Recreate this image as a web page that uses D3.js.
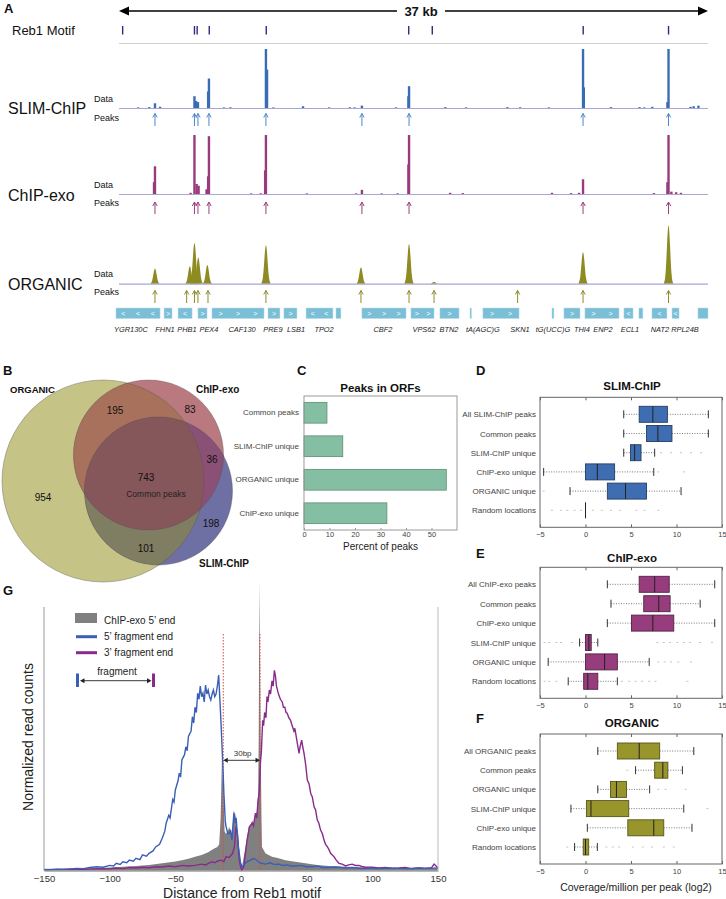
<!DOCTYPE html>
<html><head><meta charset="utf-8">
<script src="https://cdn.jsdelivr.net/npm/d3@7"></script>
<style>body{margin:0;background:#fff}svg{display:block}</style>
</head><body>
<script>
// ---------------- DATA ----------------
// Panel A (positions in kb along a 37 kb window; heights as fraction of track max)
const motifKb = [0.23, 4.74, 4.91, 5.67, 9.25, 18.2, 19.68, 29.16, 34.52];
const slimPeaks = [[2.26,0.08],[2.58,0.02],[4.74,0.2],[4.84,0.12],[4.96,0.1],[5.6,0.28],[5.65,0.5],[9.23,1.0],[9.3,0.65],[11.56,0.03],[15.26,0.04],[18.18,0.2],[18.22,0.37],[29.15,1.0],[29.2,0.35],[34.45,0.1],[34.52,1.0],
  [1.2,0.01],[1.9,0.015],[6.6,0.01],[7.0,0.012],[9.7,0.01],[13.2,0.01],[14.5,0.012],[14.8,0.01],[17.4,0.01],[20.5,0.015],[21.8,0.01],[24.4,0.015],[25.2,0.012],[27.0,0.01],[30.9,0.015],[32.7,0.015],[33.0,0.01],[33.5,0.02],[35.9,0.02],[36.1,0.03],[36.4,0.04]];
const exoPeaks = [[2.2,0.2],[2.26,0.47],[4.74,1.0],[4.88,0.17],[5.0,0.14],[5.5,0.08],[5.6,0.3],[5.65,0.98],[9.18,0.4],[9.23,1.0],[15.26,0.07],[18.18,0.5],[18.22,1.0],[29.15,0.25],[34.45,0.2],[34.52,1.0],[34.7,0.04],
  [4.5,0.02],[8.3,0.01],[8.9,0.012],[11.8,0.01],[14.9,0.01],[16.5,0.01],[17.5,0.012],[20.8,0.02],[21.6,0.015],[27.2,0.02],[28.4,0.015],[28.9,0.02],[33.6,0.015],[35.0,0.03],[35.3,0.02]];
const orgPeaks = [[2.26,0.26],[4.45,0.3],[4.74,0.7],[4.98,0.45],[5.55,0.32],[9.23,0.66],[15.2,0.28],[18.22,0.68],[19.79,0.03],[29.15,0.54],[34.52,1.0]];
const slimCalls = [2.26,4.74,4.96,5.65,9.23,15.26,18.22,29.15,34.52];
const exoCalls  = [2.26,4.74,4.96,5.65,9.23,15.26,18.22,29.15,34.52];
const orgCalls  = [2.26,4.25,4.74,4.96,5.59,9.23,15.2,18.22,19.79,25.04,29.15,34.52];
// genes: name, start kb, end kb, strand glyph, glyph count, label kb
const genes = [
 ["YGR130C",-0.19,2.58,"<",3,0.75],["FHN1",2.83,3.33,">",1,2.89],["PHB1",3.71,4.59,"<",1,4.27],
 ["PEX4",4.96,5.53,">",1,5.65],["CAF130",5.84,9.11,">",3,7.73],["PRE9",9.36,10.11,">",1,9.67],
 ["LSB1",10.36,11.18,">",1,11.12],["TPO2",11.75,13.44,"<",2,12.88],["",13.63,13.94,"",0,0],
 ["CBF2",15.26,18.03,">",3,16.58],["VPS62",18.34,19.79,">",2,19.16],["BTN2",20.16,21.36,">",1,20.73],
 ["tA(AGC)G",22.05,22.14,"",0,22.86],["SKN1",22.86,25.13,">",2,25.19],["tG(UCC)G",27.2,27.32,"",0,27.26],
 ["THI4",27.95,28.96,">",1,29.08],["ENP2",29.27,31.41,">",2,30.4],["ECL1",31.72,32.29,"<",1,32.1],
 ["",32.66,32.91,"",0,0],["NAT2",33.48,34.42,"<",1,33.98],["RPL24B",34.74,35.18,"<",1,35.55],["",36.37,37.0,"",0,0]];

// Panel B
const vennSets = ["ORGANIC","ChIP-exo","SLIM-ChIP"];
const vennCounts = [954,195,83,743,36,198,101];

// Panel C
const orfCats = ["Common peaks","SLIM-ChIP unique","ORGANIC unique","ChIP-exo unique"];
const orfPct = [9.0,15.2,55.8,32.5];
const orfTicks = [0,10,20,30,40,50];

// Panels D/E/F: name, whisker low, q1, median, q3, whisker high, outliers
const slimBox = [
 ["All SLIM-ChIP peaks",4.2,5.9,7.4,9.0,13.5,[]],
 ["Common peaks",4.2,6.7,7.95,9.5,13.5,[]],
 ["SLIM-ChIP unique",4.2,4.95,5.4,6.1,7.6,[8.3,9.4,10.5,11.6,12.7]],
 ["ChIP-exo unique",-4.6,0,1.3,3.2,7.5,[8.0,10.8]],
 ["ORGANIC unique",-1.7,2.4,4.4,6.7,10.5,[-4.6]],
 ["Random locations",0,0,0,0,0,[-3.7,-2.7,-2.0,-1.2,-0.5,0.8,1.8,2.8,3.8,5.6,6.5,8.0]]];
const exoBox = [
 ["All ChIP-exo peaks",2.4,5.9,7.6,9.2,14.2,[]],
 ["Common peaks",2.8,6.4,8.05,9.3,12.6,[]],
 ["ChIP-exo unique",2.4,5.05,7.4,9.7,14.2,[]],
 ["SLIM-ChIP unique",-0.65,0,0.37,0.63,1.35,[-4.5,-4.0,-3.2,-2.7,-1.5,7.9,8.6,9.3,10.1,10.8,11.5,12.6,13.9]],
 ["ORGANIC unique",-4.1,0,2.1,3.5,7.0,[8.0,8.7,9.4,10.2,11.6]],
 ["Random locations",-1.9,-0.2,0.25,1.35,3.5,[-4.5,-4.0,-3.2,4.0,4.8,5.5,6.2,7.0,7.7,11.2]]];
const orgBox = [
 ["All ORGANIC peaks",1.35,3.5,5.9,8.15,11.9,[]],
 ["Common peaks",5.5,7.6,8.5,9.05,10.65,[4.6]],
 ["ORGANIC unique",1.35,2.75,3.4,4.5,7.05,[8.0,8.8,11.0]],
 ["SLIM-ChIP unique",-1.6,0.1,0.6,4.75,10.8,[13.4]],
 ["ChIP-exo unique",0.2,4.65,7.5,8.6,11.7,[]],
 ["Random locations",-1.2,-0.25,0,0.35,1.3,[-2.0,2.3,3.0,3.7,5.2,6.3,7.3,8.6,9.7]]];
const boxTicks = [-5,0,5,10,15];

// Panel G: [distance bp, normalized count]
const gBlue = [[-150,0.005],[-145,0.004],[-140,0.006],[-135,0.005],[-130,0.007],[-125,0.009],[-120,0.008],[-115,0.012],[-110,0.015],[-105,0.013],[-100,0.02],[-97,0.018],[-95,0.028],[-92,0.024],[-90,0.034],[-87,0.03],[-85,0.04],[-82,0.036],[-80,0.047],[-77,0.042],[-75,0.06],[-72,0.055],[-70,0.066],[-67,0.075],[-65,0.09],[-62,0.1],[-60,0.123],[-58,0.15],[-57,0.18],[-55,0.21],[-54,0.2],[-52,0.27],[-51,0.26],[-50,0.306],[-48,0.34],[-47,0.37],[-46,0.355],[-45,0.42],[-43,0.44],[-42,0.47],[-41,0.455],[-40,0.51],[-38,0.53],[-37,0.584],[-36,0.56],[-35,0.62],[-34,0.6],[-33,0.673],[-32,0.65],[-31,0.70],[-30,0.66],[-29,0.673],[-28,0.64],[-27,0.704],[-26,0.67],[-25,0.685],[-24,0.66],[-23,0.647],[-22,0.67],[-21,0.685],[-20,0.66],[-19,0.67],[-18,0.7],[-17,0.742],[-16,0.64],[-15.3,0.57],[-14,0.42],[-13,0.29],[-12,0.19],[-11.5,0.17],[-10,0.14],[-9,0.14],[-8,0.155],[-6.9,0.116],[-5.4,0.22],[-4.5,0.18],[-3.7,0.2],[-2.2,0.1],[-0.4,0.03],[0.8,0.015],[2,0.02],[3.4,0.03],[5,0.035],[7.2,0.04],[9,0.045],[11,0.044],[13,0.035],[14.8,0.029],[18.6,0.025],[22,0.03],[25,0.024],[28.8,0.025],[32,0.02],[35,0.022],[38,0.018],[41.5,0.018],[45,0.02],[50,0.015],[54,0.015],[58,0.018],[62,0.012],[67,0.012],[72,0.014],[79.5,0.01],[85,0.012],[92,0.008],[98,0.01],[105,0.008],[112,0.01],[120,0.009],[128,0.008],[135,0.01],[142,0.009],[150,0.01]];
const gPurple = [[-150,0.004],[-140,0.005],[-130,0.006],[-120,0.005],[-110,0.008],[-100,0.007],[-95,0.01],[-90,0.008],[-85,0.012],[-80,0.01],[-75,0.013],[-70,0.011],[-65,0.015],[-60,0.014],[-55,0.018],[-50,0.015],[-45,0.02],[-40,0.018],[-35,0.02],[-30,0.025],[-27,0.022],[-24,0.03],[-22,0.034],[-20,0.03],[-18,0.036],[-15.3,0.04],[-13,0.035],[-11.5,0.053],[-9,0.05],[-6.4,0.066],[-5,0.09],[-3.9,0.167],[-2.7,0.14],[-1.4,0.04],[0,0.01],[0.6,0.003],[2.1,0.015],[3.5,0.07],[4.6,0.116],[6.5,0.167],[8.5,0.18],[9.5,0.17],[11,0.218],[12,0.2],[13,0.268],[14,0.3],[14.8,0.41],[15.5,0.45],[16.5,0.57],[17.2,0.55],[18,0.6],[19,0.58],[19.8,0.66],[20.5,0.64],[21.6,0.685],[22.5,0.67],[23.6,0.72],[24.5,0.7],[25.4,0.76],[26.2,0.74],[27,0.70],[28,0.68],[28.8,0.666],[30,0.65],[31.4,0.64],[32.3,0.62],[33.4,0.62],[34.3,0.6],[35.2,0.597],[36.4,0.58],[37.7,0.57],[39,0.55],[40.3,0.53],[41,0.54],[42,0.51],[43,0.48],[44.2,0.445],[45,0.47],[46.2,0.495],[47,0.47],[48,0.445],[49.3,0.4],[50.5,0.344],[51.8,0.33],[53.1,0.293],[54.3,0.28],[55.6,0.243],[56.8,0.23],[58.1,0.192],[59.3,0.18],[60.6,0.154],[62,0.14],[63.2,0.116],[64.4,0.1],[65.7,0.091],[67,0.08],[68.2,0.066],[69.5,0.06],[70.8,0.053],[72.5,0.04],[74.6,0.028],[77,0.025],[79.7,0.018],[82,0.022],[84.7,0.025],[87,0.02],[89.8,0.02],[92,0.016],[94.9,0.013],[100,0.013],[105,0.01],[110,0.012],[115,0.009],[120,0.01],[125,0.012],[130,0.008],[135,0.01],[140,0.009],[145,0.011],[147,0.025],[150,0.01]];
const gGray = [[-150,0.004],[-140,0.005],[-130,0.006],[-120,0.008],[-110,0.01],[-100,0.012],[-90,0.015],[-80,0.018],[-70,0.022],[-60,0.028],[-50,0.035],[-45,0.04],[-40,0.045],[-35,0.053],[-30,0.06],[-25,0.07],[-22,0.079],[-20,0.085],[-18,0.09],[-16.6,0.1],[-15.5,0.2],[-14.5,0.43],[-13.5,0.3],[-12.5,0.15],[-11.5,0.14],[-10,0.15],[-9,0.167],[-8,0.15],[-6.9,0.14],[-5.4,0.23],[-4.5,0.2],[-3.9,0.218],[-2.2,0.116],[-1,0.06],[-0.4,0.04],[0.8,0.015],[2,0.05],[3.4,0.09],[4.5,0.12],[5.9,0.167],[7,0.17],[8.5,0.19],[9.5,0.18],[11,0.218],[12,0.22],[13,0.28],[13.5,0.5],[14,1.10],[14.5,0.8],[15,0.47],[15.6,0.2],[16,0.09],[18.6,0.066],[21,0.06],[23.6,0.053],[28,0.048],[33.8,0.04],[40,0.035],[49,0.028],[58,0.022],[67,0.018],[80,0.015],[92,0.013],[105,0.011],[120,0.01],[135,0.009],[150,0.008]];
const gTicks = [-150,-100,-50,0,50,100,150];
const gLegend = ["ChIP-exo 5\u2019 end","5\u2019 fragment end","3\u2019 fragment end"];
const gGuides = [-13.5,14.5];

// ---------------- DRAW ----------------
const FONT = "'Liberation Sans', Arial, Helvetica, sans-serif";
const svg = d3.select("body").append("svg").attr("width",726).attr("height",899).style("font-family",FONT);
svg.append("rect").attr("width",726).attr("height",899).attr("fill","#fff");
const defs = svg.append("defs");

function txt(x,y,s,o={}){
  const t = svg.append("text").attr("x",x).attr("y",y).text(s)
    .attr("font-size",o.size||10).style("fill",o.fill||"#111");
  if(o.bold) t.attr("font-weight","bold");
  if(o.anchor) t.attr("text-anchor",o.anchor);
  if(o.italic) t.attr("font-style","italic");
  if(o.rotate) t.attr("transform",`rotate(${o.rotate},${x},${y})`);
  return t;
}

// panel letters
[["A",4,13],["B",3,375],["C",297,375],["D",476,375],["E",476,558],["F",476,723],["G",3,595]]
  .forEach(d=>txt(d[1],d[2],d[0],{size:13,bold:true}));

// ===== Panel A =====
const xA = d3.scaleLinear().domain([0,37]).range([119,708]);
const sbY = 11;
svg.append("line").attr("x1",xA(0)+4).attr("x2",xA(37)-4).attr("y1",sbY).attr("y2",sbY).attr("stroke","#000").attr("stroke-width",1.6);
svg.append("path").attr("d",`M${xA(0)},${sbY}L${xA(0)+10},${sbY-4.5}L${xA(0)+10},${sbY+4.5}Z`).attr("fill","#000");
svg.append("path").attr("d",`M${xA(37)},${sbY}L${xA(37)-10},${sbY-4.5}L${xA(37)-10},${sbY+4.5}Z`).attr("fill","#000");
svg.append("rect").attr("x",397).attr("y",3).attr("width",48).attr("height",16).attr("fill","#fff");
txt(421,15.5,"37 kb",{size:13,bold:true,anchor:"middle"});

txt(12,34.5,"Reb1 Motif",{size:13});
svg.append("g").selectAll("line").data(motifKb).join("line")
  .attr("x1",d=>xA(d)).attr("x2",d=>xA(d)).attr("y1",26).attr("y2",34.5)
  .attr("stroke","#2e2a7e").attr("stroke-width",1.4);
svg.append("line").attr("x1",xA(0)).attr("x2",xA(37)).attr("y1",43.5).attr("y2",43.5).attr("stroke","#cfcfcf").attr("stroke-width",1);

const tracks = [
  {name:"SLIM-ChIP",peaks:slimPeaks,calls:slimCalls,base:108,color:"#3a6cb3",acol:"#4f86cc",shape:"spike",lab:113.5,dat:101.7,pk:120.5,a0:126,a1:113.5},
  {name:"ChIP-exo",peaks:exoPeaks,calls:exoCalls,base:194,color:"#993a7d",acol:"#9c3f80",shape:"spike",lab:200.5,dat:187.7,pk:206,a0:214,a1:202},
  {name:"ORGANIC",peaks:orgPeaks,calls:orgCalls,base:283.7,color:"#8e8b22",acol:"#8e8b2a",shape:"bell",lab:290,dat:276.7,pk:295,a0:303,a1:290.5}
];
tracks.forEach(t=>{
  const y = d3.scaleLinear().domain([0,1]).range([t.base,t.base-59]);
  const area = d3.area().x(d=>xA(d[0])).y0(t.base).y1(d=>y(d[1]));
  const g = svg.append("g");
  g.selectAll("path").data(t.peaks).join("path")
    .attr("d",p=>{
      const k=p[0],h=p[1];
      if(t.shape==="spike"){ const w=0.075; return area([[k-w,h],[k+w,h]]); }
      const w=0.3;
      return area.curve(d3.curveBasis)([[k-w,0],[k-0.6*w,0.1*h],[k-0.3*w,0.7*h],[k-0.1*w,h],[k+0.1*w,h],[k+0.3*w,0.7*h],[k+0.6*w,0.1*h],[k+w,0]]);
    })
    .attr("fill",t.color);
  svg.append("line").attr("x1",xA(0)).attr("x2",xA(37)).attr("y1",t.base+0.5).attr("y2",t.base+0.5).attr("stroke","#a9a5d5").attr("stroke-width",1.2);
  svg.append("g").selectAll("path").data(t.calls).join("path")
    .attr("d",k=>{const x=xA(k); return `M${x},${t.a0}L${x},${t.a1}M${x-2.2},${t.a1+4}L${x},${t.a1}L${x+2.2},${t.a1+4}`;})
    .attr("stroke",t.acol).attr("stroke-width",1).attr("fill","none");
  txt(8,t.lab,t.name,{size:16});
  txt(94,t.dat,"Data",{size:9});
  txt(94,t.pk,"Peaks",{size:9});
});

// genes
const gGenes = svg.append("g");
genes.forEach(gn=>{
  const x0=xA(gn[1]), x1=xA(gn[2]), w=Math.max(1.4,x1-x0);
  gGenes.append("rect").attr("x",x0).attr("y",308).attr("width",w).attr("height",10.5)
    .attr("fill","#7bbfd6").attr("stroke","#b5dcea").attr("stroke-width",0.5);
  for(let i=0;i<gn[4];i++){
    const cx = x0 + (i+0.5)*w/gn[4];
    gGenes.append("text").attr("x",cx).attr("y",315.8).attr("text-anchor","middle")
      .attr("font-size",7).style("fill","#fff").text(gn[3]);
  }
  if(gn[0]) gGenes.append("text").attr("x",xA(gn[5])).attr("y",332).attr("text-anchor","middle")
     .attr("font-size",7.4).attr("font-style","italic").style("fill","#222").text(gn[0]);
});

// ===== Panel B: Venn =====
const circO={cx:103,cy:481,r:101}, circC={cx:148.5,cy:455,r:75}, circS={cx:158.5,cy:491,r:74};
defs.append("clipPath").attr("id","clipO").append("circle").attr("cx",circO.cx).attr("cy",circO.cy).attr("r",circO.r);
defs.append("clipPath").attr("id","clipC").append("circle").attr("cx",circC.cx).attr("cy",circC.cy).attr("r",circC.r);
const gB = svg.append("g");
const circ=(g,c,fill)=>g.append("circle").attr("cx",c.cx).attr("cy",c.cy).attr("r",c.r).attr("fill",fill);
circ(gB,circO,"#c5c386");
circ(gB,circC,"#b9797f");
circ(gB,circS,"#6e6fa3");
circ(gB.append("g").attr("clip-path","url(#clipO)"),circC,"#a7715c");
circ(gB.append("g").attr("clip-path","url(#clipO)"),circS,"#7f7d62");
circ(gB.append("g").attr("clip-path","url(#clipC)"),circS,"#8b5075");
circ(gB.append("g").attr("clip-path","url(#clipO)").append("g").attr("clip-path","url(#clipC)"),circS,"#86575a");
[circO,circC,circS].forEach(c=>gB.append("circle").attr("cx",c.cx).attr("cy",c.cy).attr("r",c.r).attr("fill","none").attr("stroke","#555").attr("stroke-opacity",0.55).attr("stroke-width",0.7));
const vennPos = [[43,501],[115,414],[190,413],[146,481],[212,463],[211,527],[146,552]];
vennCounts.forEach((v,i)=>txt(vennPos[i][0],vennPos[i][1],v,{size:10,anchor:"middle",fill:"#111"}));
txt(156,496.5,"Common peaks",{size:8.5,anchor:"middle",fill:"#222"});
txt(10,393,vennSets[0],{size:9.5,bold:true});
txt(196,393,vennSets[1],{size:10,bold:true});
txt(199,567,vennSets[2],{size:10,bold:true});

// ===== Panel C =====
const xC = d3.scaleLinear().domain([0,60]).range([304,457]);
const yC = d3.scaleBand().domain(orfCats).range([396,530]).paddingInner(0.38).paddingOuter(0.19);
txt(380.5,392,"Peaks in ORFs",{size:11.5,bold:true,anchor:"middle"});
svg.append("g").selectAll("rect").data(orfCats).join("rect")
  .attr("x",xC(0)).attr("y",d=>yC(d)).attr("height",yC.bandwidth())
  .attr("width",(d,i)=>xC(orfPct[i])-xC(0))
  .attr("fill","#84bfa3").attr("stroke","#5e8c76").attr("stroke-width",0.8);
svg.append("rect").attr("x",304).attr("y",396).attr("width",153).attr("height",134).attr("fill","none").attr("stroke","#9a9a9a").attr("stroke-width",1);
const axC = svg.append("g").attr("transform","translate(0,530)")
  .call(d3.axisBottom(xC).tickValues(orfTicks).tickSizeInner(-2).tickSizeOuter(0).tickPadding(2));
axC.select(".domain").remove();
axC.selectAll("line").attr("stroke","#999");
axC.selectAll("text").attr("font-size",7.5).style("fill","#444").attr("font-family",FONT);
const ayC = svg.append("g").attr("transform","translate(304,0)").call(d3.axisLeft(yC).tickSize(0).tickPadding(5));
ayC.select(".domain").remove();
ayC.selectAll("text").attr("font-size",8).style("fill","#444").attr("font-family",FONT);
txt(380.5,550,"Percent of peaks",{size:10,anchor:"middle",fill:"#222"});

// ===== Panels D/E/F =====
function boxPanel(rows,top,bottom,title,titleY,fill){
  const x = d3.scaleLinear().domain([-5,15]).range([540,722]);
  const y = d3.scalePoint().domain(rows.map(r=>r[0])).range([top+17,bottom-17]);
  const g = svg.append("g");
  const stroke = d3.color(fill).darker(1.6);
  rows.forEach(r=>{
    const cy=y(r[0]);
    r[6].forEach(o=>g.append("line").attr("x1",x(o)-1).attr("x2",x(o)+1).attr("y1",cy).attr("y2",cy).attr("stroke","#b5b5b5").attr("stroke-width",0.8));
    g.append("line").attr("x1",x(r[1])).attr("x2",x(r[2])).attr("y1",cy).attr("y2",cy).attr("stroke","#555").attr("stroke-width",0.8).attr("stroke-dasharray","1,1.5");
    g.append("line").attr("x1",x(r[4])).attr("x2",x(r[5])).attr("y1",cy).attr("y2",cy).attr("stroke","#555").attr("stroke-width",0.8).attr("stroke-dasharray","1,1.5");
    [r[1],r[5]].forEach(v=>g.append("line").attr("x1",x(v)).attr("x2",x(v)).attr("y1",cy-4).attr("y2",cy+4).attr("stroke","#333").attr("stroke-width",1));
    g.append("rect").attr("x",x(r[2])).attr("y",cy-8).attr("width",x(r[4])-x(r[2])).attr("height",16)
      .attr("fill",fill).attr("stroke",stroke).attr("stroke-width",0.9);
    g.append("line").attr("x1",x(r[3])).attr("x2",x(r[3])).attr("y1",cy-8).attr("y2",cy+8).attr("stroke","#222").attr("stroke-width",1);
  });
  g.append("rect").attr("x",540).attr("y",top).attr("width",182).attr("height",bottom-top).attr("fill","none").attr("stroke","#666").attr("stroke-width",1);
  const ax = g.append("g").attr("transform",`translate(0,${bottom})`)
    .call(d3.axisBottom(x).tickValues(boxTicks).tickSizeInner(-3).tickSizeOuter(0).tickPadding(4.4));
  ax.select(".domain").remove();
  ax.selectAll("line").attr("stroke","#666");
  ax.selectAll("text").attr("font-size",7.5).style("fill","#444").attr("font-family",FONT);
  const axT = g.append("g").attr("transform",`translate(0,${top})`)
    .call(d3.axisTop(x).tickValues(boxTicks).tickSizeInner(-3).tickSizeOuter(0).tickFormat(""));
  axT.select(".domain").remove();
  axT.selectAll("line").attr("stroke","#666");
  const ay = g.append("g").attr("transform","translate(540,0)").call(d3.axisLeft(y).tickSize(0).tickPadding(4));
  ay.select(".domain").remove();
  ay.selectAll("text").attr("font-size",8).style("fill","#444").attr("font-family",FONT);
  txt(632,titleY,title,{size:11.5,bold:true,anchor:"middle"});
}
boxPanel(slimBox,397.3,527.3,"SLIM-ChIP",390,"#3e6db1");
boxPanel(exoBox,567.3,698.3,"ChIP-exo",562,"#973c7d");
boxPanel(orgBox,734,864,"ORGANIC",727,"#99952d");
txt(636,891,"Coverage/million per peak (log2)",{size:10.5,anchor:"middle",fill:"#222"});

// ===== Panel G =====
const xG = d3.scaleLinear().domain([-150,150]).range([44,438]);
const yG = d3.scaleLinear().domain([0,1]).range([870.7,607]);
const gG = svg.append("g");
gG.append("path").datum(gGray).attr("d",d3.area().x(d=>xG(d[0])).y0(yG(0)).y1(d=>yG(d[1])))
  .attr("fill","#808080");
gGuides.forEach(v=>gG.append("line").attr("x1",xG(v)).attr("x2",xG(v)).attr("y1",634).attr("y2",870.7)
  .attr("stroke","#e0483c").attr("stroke-width",1).attr("stroke-dasharray","1.5,1.5"));
const lineG = d3.line().x(d=>xG(d[0])).y(d=>yG(d[1]));
gG.append("path").datum(gPurple).attr("d",lineG).attr("fill","none").attr("stroke","#8a2a8c").attr("stroke-width",1.4);
gG.append("path").datum(gBlue).attr("d",lineG).attr("fill","none").attr("stroke","#3a5fb7").attr("stroke-width",1.4);
const axG = gG.append("g").attr("transform","translate(0,870.7)")
  .call(d3.axisBottom(xG).tickValues(gTicks).tickSizeInner(0).tickSizeOuter(0).tickPadding(4.6));
axG.select(".domain").attr("stroke","#999");
axG.selectAll("text").attr("font-size",9.5).style("fill","#333").attr("font-family",FONT);
gG.append("line").attr("x1",44).attr("x2",44).attr("y1",607).attr("y2",870.7).attr("stroke","#999");
gG.append("line").attr("x1",438).attr("x2",438).attr("y1",607).attr("y2",870.7).attr("stroke","#bbb");
txt(242,897.5,"Distance from Reb1 motif",{size:14,anchor:"middle",fill:"#222"});
txt(33,737,"Normalized read counts",{size:14,anchor:"middle",fill:"#222",rotate:-90});
function dblArrow(x0,x1,yy,col){
  gG.append("line").attr("x1",x0+3).attr("x2",x1-3).attr("y1",yy).attr("y2",yy).attr("stroke",col).attr("stroke-width",0.9);
  gG.append("path").attr("d",`M${x0},${yy}L${x0+4.5},${yy-2.5}L${x0+4.5},${yy+2.5}Z M${x1},${yy}L${x1-4.5},${yy-2.5}L${x1-4.5},${yy+2.5}Z`).attr("fill",col);
}
dblArrow(xG(gGuides[0]),xG(gGuides[1]),760.3,"#222");
txt((xG(gGuides[0])+xG(gGuides[1]))/2+1,756,"30bp",{size:8,anchor:"middle",fill:"#333"});
gG.append("rect").attr("x",75).attr("y",613).attr("width",22).attr("height",10).attr("fill","#808080");
gG.append("line").attr("x1",76).attr("x2",97).attr("y1",636.7).attr("y2",636.7).attr("stroke","#3a5fb7").attr("stroke-width",3);
gG.append("line").attr("x1",76).attr("x2",97).attr("y1",652.7).attr("y2",652.7).attr("stroke","#8a2a8c").attr("stroke-width",3);
txt(104,624,gLegend[0],{size:10,fill:"#222"});
txt(104,640.3,gLegend[1],{size:10,fill:"#222"});
txt(104,656.3,gLegend[2],{size:10,fill:"#222"});
gG.append("rect").attr("x",76).attr("y",673.5).attr("width",3).attr("height",13.5).attr("fill","#3a5fb7");
gG.append("rect").attr("x",152).attr("y",673.5).attr("width",3).attr("height",13.5).attr("fill","#8a2a8c");
dblArrow(80,151.5,680.7,"#222");
txt(117,675,"fragment",{size:10,anchor:"middle",fill:"#222"});
</script>
</body></html>
